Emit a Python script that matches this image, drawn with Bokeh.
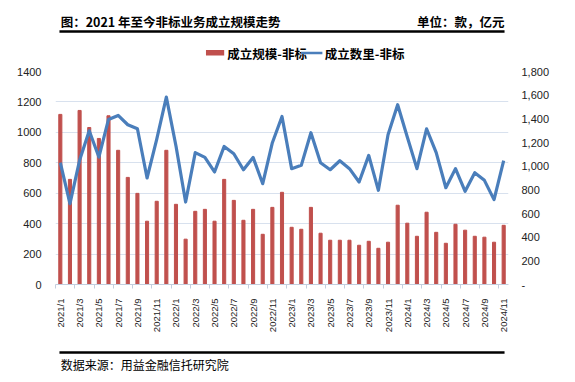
from math import pi
from bokeh.plotting import figure
from bokeh.layouts import column
from bokeh.models import LinearAxis, Range1d, FixedTicker, NumeralTickFormatter
from bokeh.core.properties import value
from bokeh.embed import file_html
from bokeh.resources import INLINE

months = ["2021/1", "2021/2", "2021/3", "2021/4", "2021/5", "2021/6", "2021/7", "2021/8",
          "2021/9", "2021/10", "2021/11", "2021/12",
          "2022/1", "2022/2", "2022/3", "2022/4", "2022/5", "2022/6", "2022/7", "2022/8",
          "2022/9", "2022/10", "2022/11", "2022/12",
          "2023/1", "2023/2", "2023/3", "2023/4", "2023/5", "2023/6", "2023/7", "2023/8",
          "2023/9", "2023/10", "2023/11", "2023/12",
          "2024/1", "2024/2", "2024/3", "2024/4", "2024/5", "2024/6", "2024/7", "2024/8",
          "2024/9", "2024/10", "2024/11"]

scale = [1118, 691, 1144, 1032, 960, 1109, 882, 704, 599, 416, 547, 882,
         527, 298, 481, 494, 416, 691, 553, 422, 494, 330, 507, 606,
         376, 363, 507, 337, 291, 291, 291, 258, 284, 238, 278, 521,
         403, 317, 475, 343, 271, 396, 357, 317, 311, 278, 389]

count = [1029, 683, 1049, 1299, 1077, 1395, 1429, 1350, 1316, 900, 1226, 1583,
         1170, 697, 1114, 1074, 951, 1167, 1105, 970, 1074, 852, 1198, 1420,
         979, 1007, 1283, 1029, 970, 1046, 979, 866, 1091, 796, 1266, 1519,
         1246, 979, 1316, 1114, 818, 979, 788, 945, 880, 717, 1046]

left_ticks = [0, 200, 400, 600, 800, 1000, 1200, 1400]
right_ticks = [0, 200, 400, 600, 800, 1000, 1200, 1400, 1600, 1800]

title_text = "图：2021 年至今非标业务成立规模走势"
unit_text = "单位：款，亿元"
bar_name = "成立规模-非标"
line_name = "成立数里-非标"
source_text = "数据来源：用益金融信托研究院"

idx = list(range(len(months)))
label_idx = idx[::2]
boundaries = [i - 0.5 for i in label_idx]

BAR_COLOR = "#c0504d"
LINE_COLOR = "#4a7ebb"
GRID = "#d8e1ee"
AXIS = "#c3cede"
CJK = "Noto Sans CJK SC"
NUM = "Liberation Sans"
W = 572


def blank(h):
    f = figure(width=W, height=h, x_range=Range1d(0, W), y_range=Range1d(h, 0),
               x_axis_type=None, y_axis_type=None, output_backend="svg",
               toolbar_location=None, min_border=0)
    f.outline_line_color = None
    f.grid.grid_line_color = None
    return f


# ---------- header ----------
H1 = 63
head = blank(H1)
head.text(x=[6.5], y=[20.5], text=[title_text], text_font=value(CJK),
          text_font_style="bold", text_font_size="12.5px", text_baseline="middle",
          text_color="#000000")
head.text(x=[567], y=[20.5], text=[unit_text], text_font=value(CJK),
          text_font_style="bold", text_font_size="12.5px", text_baseline="middle",
          text_align="right", text_color="#000000")
head.segment(x0=[5], y0=[31], x1=[567], y1=[31], line_color="black", line_width=2.5)
head.quad(left=[190], right=[213], top=[49.5], bottom=[55], fill_color=BAR_COLOR,
          line_color=None)
head.text(x=[217], y=[52.5], text=[bar_name], text_font=value(CJK),
          text_font_style="bold", text_font_size="12.5px", text_baseline="middle",
          text_color="#000000")
head.segment(x0=[310], y0=[52.5], x1=[337], y1=[52.5], line_color=LINE_COLOR,
             line_width=2.5)
head.text(x=[340], y=[52.5], text=[line_name], text_font=value(CJK),
          text_font_style="bold", text_font_size="12.5px", text_baseline="middle",
          text_color="#000000")

# ---------- main chart ----------
H2 = 282
p = figure(width=W, height=H2, x_range=Range1d(-0.5, len(months) - 0.5),
           y_range=Range1d(0, 1400), output_backend="svg", toolbar_location=None,
           min_border_left=55, min_border_right=W - 508, min_border_top=8,
           min_border_bottom=H2 - 8 - 213)
p.outline_line_color = None
p.extra_y_ranges = {"right": Range1d(0, 1800)}

p.vbar(x=idx, top=scale, width=0.32, color=BAR_COLOR)
p.line(x=idx, y=count, y_range_name="right", line_color=LINE_COLOR, line_width=3.2,
       line_join="round")

xa = p.xaxis[0]
xa.ticker = FixedTicker(ticks=label_idx, minor_ticks=boundaries)
xa.major_label_overrides = {i: months[i] for i in label_idx}
xa.major_label_orientation = pi / 2
xa.major_tick_line_color = None
xa.major_tick_out = 0
xa.major_tick_in = 0
xa.minor_tick_line_color = AXIS
xa.minor_tick_out = 4
xa.minor_tick_in = 0
xa.axis_line_color = AXIS
xa.major_label_standoff = 10
xa.major_label_text_font = NUM
xa.major_label_text_font_size = "9.5px"
xa.major_label_text_color = "#222222"

ya = p.yaxis[0]
ya.ticker = FixedTicker(ticks=left_ticks)
ya.axis_line_color = None
ya.major_tick_line_color = None
ya.minor_tick_line_color = None
ya.major_tick_out = 0
ya.major_label_standoff = 14
ya.major_label_text_font = NUM
ya.major_label_text_font_size = "11px"
ya.major_label_text_color = "#222222"

ra = LinearAxis(y_range_name="right", ticker=FixedTicker(ticks=right_ticks),
                formatter=NumeralTickFormatter(format="0,0"))
ra.major_label_overrides = {0: "-"}
ra.axis_line_color = None
ra.major_tick_line_color = None
ra.minor_tick_line_color = None
ra.major_tick_out = 0
ra.major_label_standoff = 13
ra.major_label_text_font = NUM
ra.major_label_text_font_size = "11px"
ra.major_label_text_color = "#222222"
p.add_layout(ra, "right")

p.xgrid.grid_line_color = None
p.ygrid.ticker = FixedTicker(ticks=left_ticks)
p.ygrid.grid_line_color = GRID

# ---------- footer ----------
H3 = 35
foot = blank(H3)
foot.segment(x0=[5], y0=[7], x1=[567], y1=[7], line_color="black", line_width=2.5)
foot.text(x=[6.5], y=[18.5], text=[source_text], text_font=value(CJK),
          text_font_size="12px", text_baseline="middle", text_color="#000000")

layout = column(head, p, foot, spacing=0)
open("out.html", "w").write(file_html(layout, INLINE))
